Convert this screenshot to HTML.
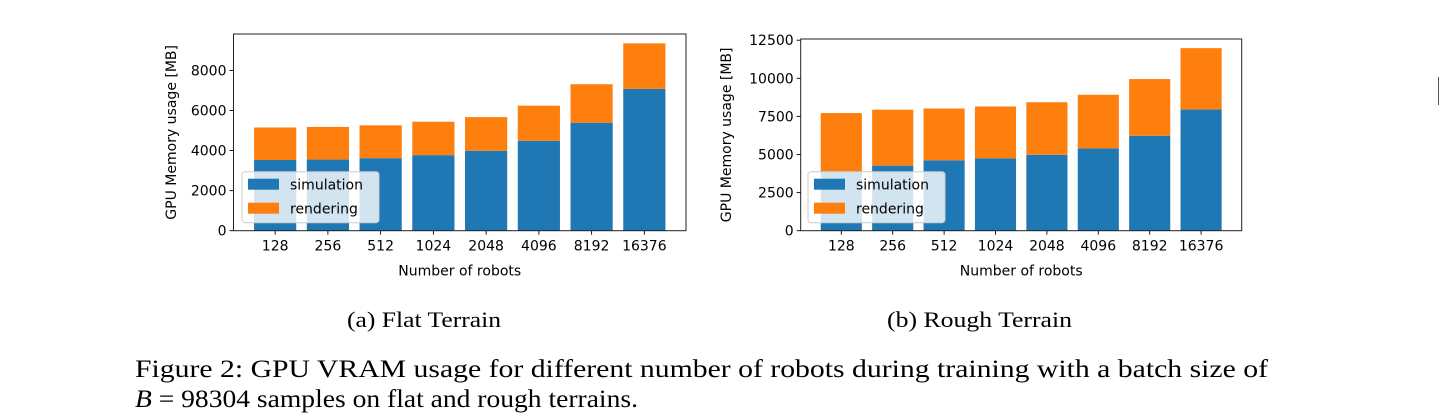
<!DOCTYPE html>
<html><head><meta charset="utf-8"><style>
html,body{margin:0;padding:0;background:#fff;width:1440px;height:413px;overflow:hidden}
svg{display:block}
.tk{font-family:"DejaVu Sans","Liberation Sans",sans-serif;font-size:14px;fill:#000}
.cap{font-family:"Liberation Serif","Times New Roman",serif;fill:#000}
</style></head><body>
<svg id="fig" width="1440" height="413" viewBox="0 0 1440 413" xmlns="http://www.w3.org/2000/svg">
<g id="chartA"></g>
<g id="chartB"></g>
<text class="cap" x="347" y="327" font-size="22" textLength="154" lengthAdjust="spacingAndGlyphs">(a) Flat Terrain</text>
<text class="cap" x="887" y="327" font-size="22" textLength="185" lengthAdjust="spacingAndGlyphs">(b) Rough Terrain</text>
<text class="cap" x="135" y="377" font-size="25" textLength="1133" lengthAdjust="spacingAndGlyphs">Figure 2:  GPU VRAM usage for different number of robots during training with a batch size of</text>
<text class="cap" x="135" y="407" font-size="25" textLength="503" lengthAdjust="spacingAndGlyphs"><tspan font-style="italic">B</tspan> = 98304 samples on flat and rough terrains.</text>
<line x1="1438.5" y1="77" x2="1438.5" y2="105" stroke="#555" stroke-width="1"/>
</svg>
<script>
const categories = ["128","256","512","1024","2048","4096","8192","16376"];
const flatSim = [3530,3550,3620,3770,3990,4490,5390,7080];
const flatTotal = [5150,5180,5260,5440,5670,6240,7310,9350];
const roughSim = [3900,4270,4620,4750,4980,5400,6230,7960];
const roughTotal = [7720,7940,8020,8150,8430,8920,9950,11980];
const flatTicks = [0,2000,4000,6000,8000];
const roughTicks = [0,2500,5000,7500,10000,12500];
const NS="http://www.w3.org/2000/svg";
function mk(tag,attrs,parent){const e=document.createElementNS(NS,tag);for(const k in attrs)e.setAttribute(k,attrs[k]);parent.appendChild(e);return e;}
function draw(g,cfg,sim,total,ticks,nm){
  const L=cfg.l,R=cfg.r,T=cfg.t,B=cfg.b;
  const n=categories.length;
  const xmin=-0.79,xmax=n-1+0.79;
  const xs=v=>L+(v-xmin)/(xmax-xmin)*(R-L);
  const ymax=Math.max(...total)*1.05;
  const ys=v=>B-v/ymax*(B-T);
  const bw=0.8*(R-L)/(xmax-xmin);
  categories.forEach((c,i)=>{
    const cx=xs(i);
    const r1=mk('rect',{x:cx-bw/2,y:ys(sim[i]),width:bw,height:ys(0)-ys(sim[i]),fill:'#1f77b4'},g);
    
    
    const r2=mk('rect',{x:cx-bw/2,y:ys(total[i]),width:bw,height:ys(sim[i])-ys(total[i]),fill:'#ff7f0e'},g);
    
    
    mk('line',{x1:cx,x2:cx,y1:B,y2:B+4,stroke:'#000','stroke-width':0.9},g);
    const t=mk('text',{x:cx,y:B+20,'text-anchor':'middle',class:'tk'},g);
    t.textContent=c;
    
    
  });
  ticks.forEach(v=>{
    const y=ys(v);
    mk('line',{x1:L-4,x2:L,y1:y,y2:y,stroke:'#000','stroke-width':0.9},g);
    const t=mk('text',{x:L-7,y:y+5,'text-anchor':'end',class:'tk'},g);
    t.textContent=v;
    
    
  });
  const fr=mk('rect',{x:L,y:T,width:R-L,height:B-T,fill:'none',stroke:'#222','stroke-width':1},g);
  
  
  const xl=mk('text',{x:(L+R)/2,y:B+45,'text-anchor':'middle',class:'tk'},g);
  xl.textContent='Number of robots';
  
  
  const yl=mk('text',{x:0,y:0,'text-anchor':'middle',class:'tk','font-size':'13.5',transform:`translate(${cfg.yl},${(T+B)/2}) rotate(-90)`},g);
  yl.textContent='GPU Memory usage [MB]';
  
  
  const lg=mk('g',{},g);
  
  
  const lx=cfg.lx,ly=171.7;
  mk('rect',{x:lx,y:ly,width:137,height:51,rx:3,fill:'rgba(255,255,255,0.8)',stroke:'#ccc','stroke-width':1},lg);
  mk('rect',{x:lx+6,y:ly+7,width:31,height:11,fill:'#1f77b4'},lg);
  mk('rect',{x:lx+6,y:ly+31,width:31,height:11,fill:'#ff7f0e'},lg);
  const s1=mk('text',{x:lx+48,y:ly+18,class:'tk'},lg);s1.textContent='simulation';
  
  
  const s2=mk('text',{x:lx+48,y:ly+42,class:'tk'},lg);s2.textContent='rendering';
  
  
}
draw(document.getElementById('chartA'),{l:233.5,r:686,t:34,b:230.7,yl:176,lx:242},flatSim,flatTotal,flatTicks,'a');
draw(document.getElementById('chartB'),{l:800.7,r:1241.7,t:39,b:230.7,yl:731,lx:808},roughSim,roughTotal,roughTicks,'b');
</script>
</body></html>
